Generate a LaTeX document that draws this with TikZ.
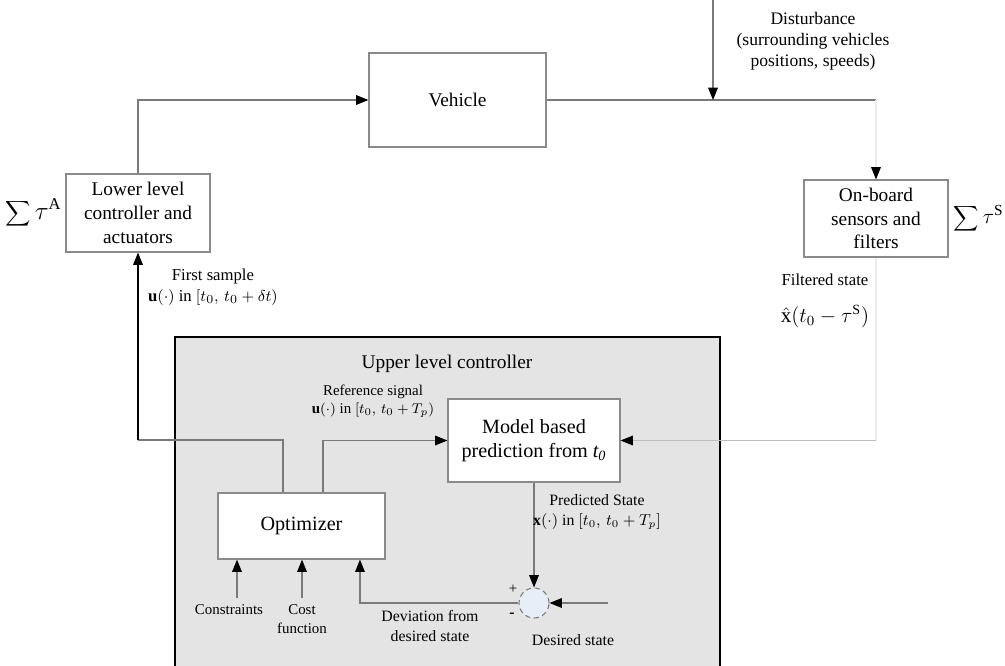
\documentclass[tikz,border=0pt]{standalone}
\usepackage{fontspec}
\setmainfont{Liberation Serif}
\usetikzlibrary{arrows.meta,calc}
\definecolor{ln}{HTML}{7A7A7A}
\definecolor{faint}{HTML}{ECECEC}
\definecolor{light}{HTML}{BDBDBD}
\definecolor{bx}{HTML}{8A8A8A}
\definecolor{panel}{HTML}{E4E4E4}
\definecolor{sumfill}{HTML}{E8EEF8}
\tikzset{
  tip/.tip={Triangle[length=7pt,width=5.5pt,color=black]},
  conn/.style={draw=ln, line width=0.6pt},
  arr/.style={conn, -tip},
  blk/.style={draw=black, line width=0.7pt, -tip},
  block/.style={draw=bx, line width=0.7pt, fill=white, align=center, inner sep=2pt, font=\fontsize{11}{13.5}\selectfont},
  lbl/.style={align=center, inner sep=0pt, font=\fontsize{9.5}{12}\selectfont},
  slbl/.style={align=center, inner sep=0pt, font=\fontsize{8.5}{10.5}\selectfont},
}
\begin{document}
\begin{tikzpicture}[x=0.02cm,y=-0.02cm]
\useasboundingbox (0,0) rectangle (1005,666);
% upper level panel
\fill[panel] (175,337) rectangle (720,666);
\draw[black, line width=0.8pt] (175,666) -- (175,337) -- (720,337) -- (720,666);
\node[font=\fontsize{11}{13}\selectfont] (ulc) at (447,364) {Upper level controller};

% blocks
\node[block, minimum width=3.54cm, minimum height=1.88cm] (veh) at (457.5,100) {Vehicle};
\node[block, minimum width=2.88cm, minimum height=1.56cm] (llc) at (138,213) {Lower level\\controller and\\actuators};
\node[block, minimum width=2.88cm, minimum height=1.54cm] (sen) at (876,218.5) {On-board\\sensors and\\filters};
\node[block, minimum width=3.44cm, minimum height=1.66cm, font=\fontsize{11.5}{14}\selectfont] (mod) at (534,440.5) {Model based\\prediction from \textit{t\textsubscript{0}}};
\node[block, minimum width=3.34cm, minimum height=1.32cm, font=\fontsize{11.5}{14}\selectfont] (opt) at (301.5,526) {Optimizer};
\node[circle, draw=ln, densely dashed, fill=sumfill, minimum size=0.6cm, inner sep=0pt, line width=0.6pt] (sum) at (534,603) {};

% side labels
\node[anchor=east, inner sep=2pt, font=\fontsize{13.5}{16}\selectfont] (tauA) at (llc.west) {$\displaystyle\sum\tau^{\mathrm{A}}$};
\node[anchor=west, inner sep=0pt, font=\fontsize{12.5}{16}\selectfont] (tauS) at ([xshift=0.1cm]sen.east) {$\displaystyle\sum\tau^{\mathrm{S}}$};

% coordinates
\coordinate (dtop) at (713,0);
\coordinate (dbot) at (713,100);
\coordinate (vr) at (876,100);
\coordinate (sr) at (876,440.5);
\coordinate (j1) at (138,440);
\coordinate (ds) at (608,603);
\coordinate (c1) at (237,598);
\coordinate (c2) at (302,598);

% connectors
\draw[arr] (llc.north) |- (veh.west);
\draw[conn] (veh.east) -- (vr);
\draw[draw=faint, line width=0.6pt, -tip] (vr) -- (sen.north);
\draw[arr] (dtop) -- (dbot);
\draw[draw=faint, line width=0.6pt] (sen.south) -- (sr);
\draw[draw=light, line width=0.6pt, -tip] (sr) -- (mod.east);
\draw[conn] ([xshift=-0.37cm]opt.north) |- (j1);
\draw[blk] (j1) -- (llc.south);
\draw[arr] ([xshift=0.43cm]opt.north) |- (mod.west);
\draw[arr] (mod.south) -- (sum.north);
\draw[arr] (ds) -- (sum.east);
\draw[arr] (sum.west) -| ([xshift=1.17cm]opt.south);
\draw[arr] (c1) -- (c1 |- opt.south);
\draw[arr] (c2) -- (c2 |- opt.south);

% labels
\node[lbl, font=\fontsize{10}{12}\selectfont] (dist) at (813,41) {Disturbance\\(surrounding vehicles\\positions, speeds)};
\node[lbl] (fs) at (213,287) {First sample\\$\mathbf{u}(\cdot)$ in $[t_0,\, t_0+\delta t)$};
\node[lbl] (filt) at (825,301) {Filtered state\\[9pt]{\fontsize{12}{14}\selectfont$\hat{\mathrm{x}}(t_0-\tau^{\mathrm{S}})$}};
\node[slbl] (ref) at (373,401) {Reference signal\\$\mathbf{u}(\cdot)$ in $[t_0,\, t_0+T_p)$};
\node[slbl, font=\fontsize{9}{11.5}\selectfont] (pred) at (597,512) {Predicted State\\$\mathbf{x}(\cdot)$ in $[t_0,\, t_0+T_p]$};
\node[slbl] (plus) at (513,589) {+};
\node[slbl, font=\bfseries\fontsize{9}{11}\selectfont] (minus) at (512,615) {-};
\node[slbl] (cons) at (229,610) {Constraints};
\node[slbl] (cost) at (302,619) {Cost\\function};
\node[slbl, font=\fontsize{9}{11}\selectfont] (dev) at (430,626) {Deviation from\\desired state};
\node[slbl, font=\fontsize{9}{11}\selectfont] (dsl) at (573,640) {Desired state};
\end{tikzpicture}
\end{document}
